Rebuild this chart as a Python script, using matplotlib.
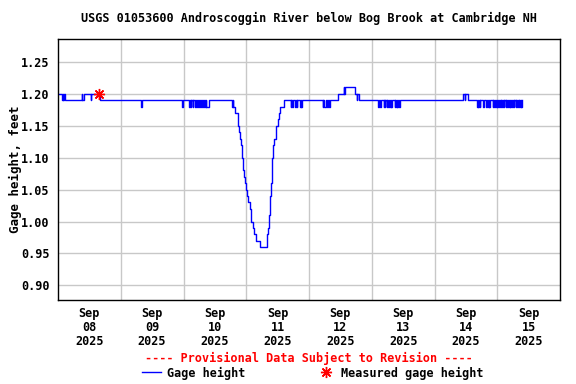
import pandas as pd
import matplotlib
matplotlib.use("Agg")
import matplotlib.pyplot as plt

plt.rcParams['font.family'] = ['DejaVu Sans Mono']
plt.rcParams['font.weight'] = 'bold'
plt.rcParams['axes.labelweight'] = 'bold'
plt.rcParams['font.size'] = 8.5

title = "USGS 01053600 Androscoggin River below Bog Brook at Cambridge NH"

# 15-min gage height readings, only where the value changes
gage_time = [
    "09-08 00:00", "09-08 01:30", "09-08 01:45", "09-08 02:00", "09-08 02:15", "09-08 02:45",
    "09-08 09:00", "09-08 09:15", "09-08 10:00", "09-08 12:30", "09-08 12:45", "09-08 16:00",
    "09-09 07:45", "09-09 08:00", "09-09 23:30", "09-09 23:45",
    "09-10 02:15", "09-10 02:30", "09-10 02:45", "09-10 03:00", "09-10 03:30", "09-10 03:45",
    "09-10 04:15", "09-10 04:45", "09-10 05:15", "09-10 05:30", "09-10 06:00", "09-10 06:15",
    "09-10 06:45", "09-10 07:00", "09-10 07:30", "09-10 07:45", "09-10 08:15", "09-10 08:30",
    "09-10 08:45", "09-10 09:45", "09-10 18:30", "09-10 18:45",
    # the drawdown
    "09-10 19:00", "09-10 19:45", "09-10 20:45", "09-10 21:00", "09-10 21:15", "09-10 21:30",
    "09-10 22:00", "09-10 22:15", "09-10 22:30", "09-10 22:45", "09-10 23:15", "09-10 23:30",
    "09-10 23:45", "09-11 00:15", "09-11 00:45", "09-11 01:15", "09-11 01:45", "09-11 02:00",
    "09-11 02:30", "09-11 03:00", "09-11 03:45", "09-11 05:15", "09-11 07:45", "09-11 08:00",
    "09-11 08:30", "09-11 08:45", "09-11 09:00", "09-11 09:15", "09-11 09:30", "09-11 09:45",
    "09-11 10:00", "09-11 10:15", "09-11 10:45", "09-11 11:15", "09-11 11:30", "09-11 12:00",
    "09-11 12:30", "09-11 13:00", "09-11 14:15",
    "09-11 17:00", "09-11 17:15", "09-11 17:30", "09-11 17:45", "09-11 18:30", "09-11 19:00",
    "09-11 19:15", "09-11 19:30", "09-11 20:30", "09-11 20:45", "09-11 21:00", "09-11 21:15",
    "09-12 05:15", "09-12 05:30", "09-12 05:45", "09-12 06:30", "09-12 06:45", "09-12 07:15",
    "09-12 07:30", "09-12 08:00", "09-12 11:15", "09-12 13:15", "09-12 13:30", "09-12 13:45",
    "09-12 17:30", "09-12 18:15", "09-12 18:30", "09-12 19:15",
    "09-13 02:30", "09-13 02:45", "09-13 03:15", "09-13 03:30", "09-13 04:30", "09-13 04:45",
    "09-13 05:00", "09-13 05:15", "09-13 05:45", "09-13 06:00", "09-13 06:15", "09-13 06:30",
    "09-13 07:00", "09-13 07:15", "09-13 07:30", "09-13 07:45", "09-13 08:45", "09-13 09:00",
    "09-13 09:15", "09-13 09:30", "09-13 09:45", "09-13 10:00", "09-13 10:30", "09-13 10:45",
    "09-14 11:00", "09-14 11:30", "09-14 11:45", "09-14 12:45",
    "09-14 16:15", "09-14 16:30", "09-14 16:45", "09-14 17:00", "09-14 17:15", "09-14 17:30",
    "09-14 18:30", "09-14 18:45", "09-14 19:45", "09-14 20:00", "09-14 20:30", "09-14 20:45",
    "09-14 21:00", "09-14 21:15", "09-14 22:15", "09-14 22:30", "09-14 22:45", "09-14 23:00",
    "09-14 23:30", "09-14 23:45", "09-15 00:00", "09-15 00:15", "09-15 00:45", "09-15 01:00",
    "09-15 01:15", "09-15 01:30", "09-15 02:00", "09-15 02:15", "09-15 02:30", "09-15 02:45",
    "09-15 03:15", "09-15 03:30", "09-15 03:45", "09-15 04:00", "09-15 04:30", "09-15 04:45",
    "09-15 05:00", "09-15 05:15", "09-15 05:45", "09-15 06:00", "09-15 06:15", "09-15 06:30",
    "09-15 07:00", "09-15 07:15", "09-15 07:30", "09-15 07:45", "09-15 08:15", "09-15 08:30",
    "09-15 08:45", "09-15 09:00", "09-15 09:15", "09-15 09:30",
]
gage_ft = [
    1.20, 1.19, 1.20, 1.19, 1.20, 1.19,
    1.20, 1.19, 1.20, 1.19, 1.20, 1.19,
    1.18, 1.19, 1.18, 1.19,
    1.18, 1.19, 1.18, 1.19, 1.18, 1.19,
    1.18, 1.19, 1.18, 1.19, 1.18, 1.19,
    1.18, 1.19, 1.18, 1.19, 1.18, 1.19,
    1.18, 1.19, 1.18, 1.19,
    1.18, 1.17, 1.16, 1.15, 1.14, 1.13,
    1.12, 1.11, 1.10, 1.08, 1.07, 1.06,
    1.05, 1.04, 1.03, 1.02, 1.01, 1.00,
    0.99, 0.98, 0.97, 0.96, 0.97, 0.98,
    0.99, 1.01, 1.02, 1.04, 1.06, 1.08,
    1.10, 1.12, 1.13, 1.14, 1.15, 1.16,
    1.17, 1.18, 1.19,
    1.18, 1.19, 1.18, 1.19, 1.18, 1.19,
    1.18, 1.19, 1.18, 1.19, 1.18, 1.19,
    1.18, 1.19, 1.18, 1.19, 1.18, 1.19,
    1.18, 1.19, 1.20, 1.21, 1.20, 1.21,
    1.20, 1.19, 1.20, 1.19,
    1.18, 1.19, 1.18, 1.19, 1.18, 1.19,
    1.18, 1.19, 1.18, 1.19, 1.18, 1.19,
    1.18, 1.19, 1.18, 1.19, 1.18, 1.19,
    1.18, 1.19, 1.18, 1.19, 1.18, 1.19,
    1.20, 1.19, 1.20, 1.19,
    1.18, 1.19, 1.18, 1.19, 1.18, 1.19,
    1.18, 1.19, 1.18, 1.19, 1.18, 1.19,
    1.18, 1.19, 1.18, 1.19, 1.18, 1.19,
    1.18, 1.19, 1.18, 1.19, 1.18, 1.19,
    1.18, 1.19, 1.18, 1.19, 1.18, 1.19,
    1.18, 1.19, 1.18, 1.19, 1.18, 1.19,
    1.18, 1.19, 1.18, 1.19, 1.18, 1.19,
    1.18, 1.19, 1.18, 1.19, 1.18, 1.19,
    1.18, 1.19, 1.18, 1.19,
]

meas_time = ["09-08 15:45"]
meas_ft = [1.20]

day_labels = ["08", "09", "10", "11", "12", "13", "14", "15"]

t = pd.to_datetime(["2025-" + s for s in gage_time])
tm = pd.to_datetime(["2025-" + s for s in meas_time])
days = pd.to_datetime(["2025-09-" + d for d in day_labels])

fig = plt.figure(figsize=(5.76, 3.84), dpi=100)
ax = fig.add_axes([58 / 576, 1 - 300 / 384, 502 / 576, 261 / 384])

line, = ax.plot(t, gage_ft, drawstyle='steps-post', color='#0000ff', lw=1,
                label="Gage height")
star, = ax.plot(tm, meas_ft, ls='none', marker=(8, 2, 0), ms=8, mew=1,
                color='#ff0000', label="Measured gage height")

ax.set_xlim(days[0], days[-1] + pd.Timedelta(days=1))
ax.set_ylim(0.877, 1.286)
ax.set_yticks([0.90, 0.95, 1.00, 1.05, 1.10, 1.15, 1.20, 1.25])
ax.set_yticklabels(["%.2f" % v for v in ax.get_yticks()])

ax.set_xticks(days + pd.Timedelta(hours=12))
ax.set_xticklabels(["Sep\n%s\n2025" % d for d in day_labels], linespacing=1.1)
ax.set_xticks(list(days[1:]), minor=True)
ax.tick_params(axis='both', which='both', length=0)
ax.tick_params(axis='x', pad=5)
ax.tick_params(axis='y', pad=6)
ax.grid(True, which='minor', axis='x', color='#c8c8c8', lw=1)
ax.grid(True, which='major', axis='y', color='#c8c8c8', lw=1)
ax.set_axisbelow(True)
for s in ax.spines.values():
    s.set_linewidth(1)

ax.set_ylabel("Gage height, feet", fontsize=9, fontweight='bold')
ax.yaxis.set_label_coords(-0.072, 0.5)
ax.set_title(title, pad=12, fontsize=8.5, fontweight='bold')

fig.text(0.537, 1 - 358 / 384, "---- Provisional Data Subject to Revision ----",
         color='#ff0000', ha='center', va='center')
fig.legend(handles=[line, star], loc='center', bbox_to_anchor=(0.543, 1 - 373 / 384),
           ncol=2, frameon=False, handlelength=1.6, handletextpad=0.5,
           columnspacing=6.0, borderpad=0, borderaxespad=0)

fig.savefig("out.png", dpi=100)
